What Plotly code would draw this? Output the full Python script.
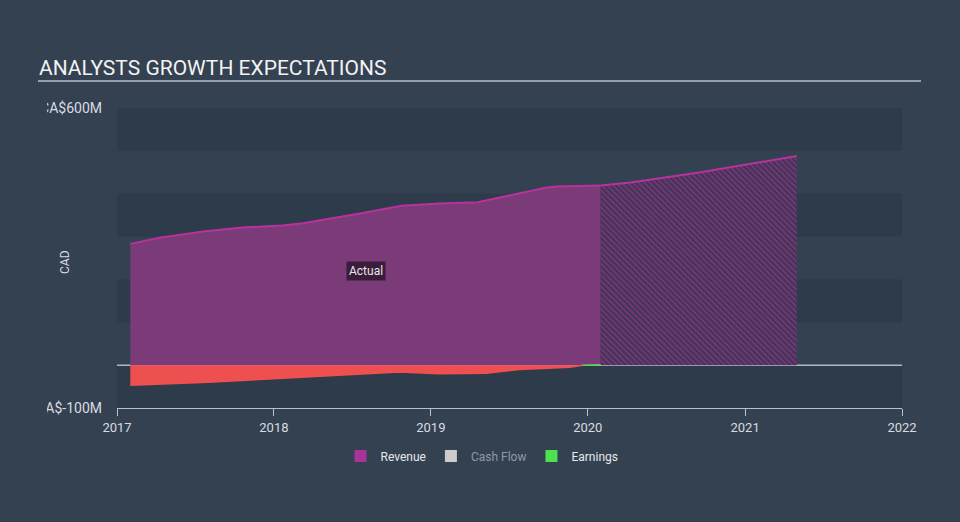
import plotly.graph_objects as go

# ---- data (values in CA$ millions) ----
rev_dates = ["2017-02-01", "2017-04-10", "2017-07-20", "2017-10-20", "2018-01-20", "2018-03-10",
             "2018-07-20", "2018-10-25", "2019-01-20", "2019-04-20", "2019-09-25", "2019-10-20",
             "2020-01-31"]
rev_values = [283, 297, 312, 321, 326, 331, 354, 372, 377, 380, 414, 417, 419]

fc_dates = ["2020-01-31", "2020-04-10", "2020-09-20", "2021-05-01"]
fc_values = [419, 426, 450, 488]

earn_dates = ["2017-02-01", "2017-08-01", "2018-01-10", "2018-06-10", "2018-10-20", "2019-01-20",
              "2019-05-10", "2019-07-25", "2019-11-20", "2019-12-20", "2020-01-31"]
earn_values = [-47, -40, -31, -23, -16, -20, -19, -10, -5, 0, 1]

year_ticks = ["2017-01-01", "2018-01-01", "2019-01-01", "2020-01-01", "2021-01-01", "2022-01-01"]
year_labels = ["2017", "2018", "2019", "2020", "2021", "2022"]
y_ticks = [-100, 600]
y_labels = ["CA$-100M", "CA$600M"]
legend_names = ["Revenue", "Cash Flow", "Earnings"]
legend_colors = ["#a8349a", "#cccccc", "#4fe04f"]

BG = "#344151"
BAND = "#2e3b4a"
FONT = "Roboto, Arial, sans-serif"

fig = go.Figure()

# revenue actual
fig.add_trace(go.Scatter(x=rev_dates, y=rev_values, mode="lines", fill="tozeroy",
                         line=dict(color="#b8329e", width=2), fillcolor="#7b3a78",
                         showlegend=False, hoverinfo="skip"))
# revenue forecast (hatched)
fig.add_trace(go.Scatter(x=fc_dates, y=fc_values, mode="lines", fill="tozeroy",
                         line=dict(color="#b8329e", width=2), fillcolor="#3c3452",
                         fillpattern=dict(shape="\\", fgcolor="#ad369e", bgcolor="#3c3551",
                                          size=4, solidity=0.5),
                         showlegend=False, hoverinfo="skip"))

# earnings: negative part red, positive part green
neg_idx = [i for i, v in enumerate(earn_values) if v <= 0]
last_neg = neg_idx[-1]
fig.add_trace(go.Scatter(x=earn_dates[:last_neg + 1], y=earn_values[:last_neg + 1], mode="lines",
                         fill="tozeroy", line=dict(color="#f05050", width=1.5), fillcolor="#ee5050",
                         showlegend=False, hoverinfo="skip"))
fig.add_trace(go.Scatter(x=earn_dates[last_neg:], y=earn_values[last_neg:], mode="lines",
                         line=dict(color="#4fe04f", width=1.5), showlegend=False, hoverinfo="skip"))

# legend-only entries
for name, col in zip(legend_names, legend_colors):
    label = name if name != "Cash Flow" else "<span style='color:#8f99a3'>Cash Flow</span>"
    fig.add_trace(go.Bar(x=[None], y=[None], name=label, marker=dict(color=col, line=dict(width=0)),
                         showlegend=True, hoverinfo="skip"))

shapes = []
for lo, hi in [(500, 600), (300, 400), (100, 200), (-100, 0)]:
    shapes.append(dict(type="rect", xref="paper", yref="y", x0=0, x1=1, y0=lo, y1=hi,
                       fillcolor=BAND, line=dict(width=0), layer="below"))
shapes.append(dict(type="line", xref="paper", yref="y", x0=0, x1=1, y0=0, y1=0,
                   line=dict(color="#b0b8c0", width=1.5), layer="below"))
# title underline
shapes.append(dict(type="line", xref="paper", yref="paper", x0=(38 - 117) / 785, x1=(921 - 117) / 785,
                   y0=(408 - 81) / 300, y1=(408 - 81) / 300, line=dict(color="#b8bec4", width=1.5)))
# clip left edge of tick labels
shapes.append(dict(type="rect", xref="paper", yref="paper", x0=-117 / 785, x1=(47 - 117) / 785,
                   y0=-0.05, y1=1.05, fillcolor=BG, line=dict(width=0), layer="above"))

annotations = [
    dict(text="ANALYSTS GROWTH EXPECTATIONS", xref="paper", yref="paper",
         x=(37 - 117) / 785, y=(408 - 68) / 300, xanchor="left", yanchor="middle",
         showarrow=False, font=dict(family=FONT, size=21, color="#f2f2f2")),
    dict(text="CAD", xref="paper", yref="paper", x=(65 - 117) / 785, y=(408 - 262) / 300,
         textangle=-90, showarrow=False, xanchor="center", yanchor="middle",
         font=dict(family=FONT, size=12, color="#d8dce0")),
    dict(text="Actual", xref="x", yref="y", x="2018-08-03", y=219, showarrow=False,
         bgcolor="#3a1d3a", borderpad=2, font=dict(family=FONT, size=12, color="#e8e8e8")),
]

fig.update_layout(
    width=960, height=522,
    margin=dict(l=117, r=58, t=108, b=114),
    paper_bgcolor=BG, plot_bgcolor=BG,
    font=dict(family=FONT, color="#d8dce0"),
    shapes=shapes, annotations=annotations,
    showlegend=True,
    legend=dict(orientation="h", x=0.465, xanchor="center", y=-0.16, yanchor="middle",
                font=dict(family=FONT, size=12, color="#e6e8ea"), itemwidth=30,
                bgcolor="rgba(0,0,0,0)"),
    xaxis=dict(type="date", range=["2017-01-01", "2022-01-01"], tickvals=year_ticks,
               ticktext=year_labels, showgrid=False, zeroline=False, showline=True,
               linecolor="#b8c0c8", linewidth=1, ticks="outside", ticklen=7, tickcolor="#b8c0c8",
               tickfont=dict(family=FONT, size=13, color="#d8dce0"), fixedrange=True),
    yaxis=dict(range=[-100, 600], tickvals=y_ticks, ticktext=y_labels, showgrid=False,
               zeroline=False, showline=False, ticks="", ticklabelstandoff=14,
               tickfont=dict(family=FONT, size=14, color="#d8dce0"), fixedrange=True),
)

fig.write_html("out.html", config={"displayModeBar": False},
               post_script="document.body.style.margin='0';document.body.style.overflow='hidden';")
